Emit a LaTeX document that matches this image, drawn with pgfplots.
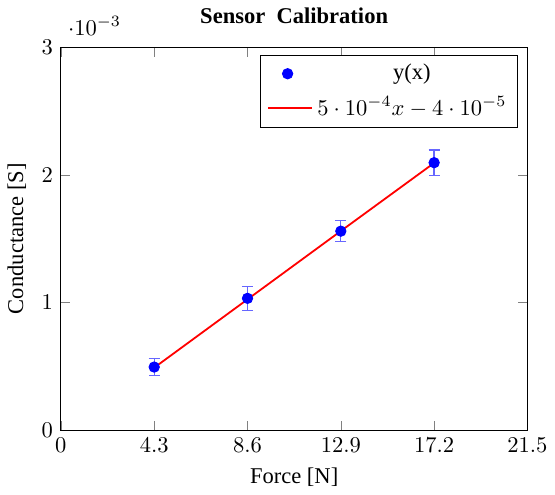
\documentclass[border=0pt]{standalone}
\usepackage{fontspec}
\setmainfont{Liberation Serif}
\usepackage{pgfplots}
\pgfplotsset{compat=1.18}

\begin{document}
\begin{tikzpicture}
  \begin{axis}[
    scale only axis,
    width=207pt,
    height=170pt,
    title={\textbf{Sensor\ \ Calibration}},
    title style={yshift=1pt},
    xlabel={Force [N]},
    ylabel={Conductance [S]},
    xmin=0, xmax=21.5,
    ymin=0, ymax=0.003,
    xtick={0,4.3,8.6,12.9,17.2,21.5},
    ytick={0,0.001,0.002,0.003},
    legend cell align=center,
    legend style={at={(0.98,0.98)}, anchor=north east, row sep=2pt},
  ]
    \addplot[only marks, blue, mark=*, mark size=2.3pt,
      error bars/.cd, y dir=both, y explicit,
      error bar style={blue!60, line width=0.6pt},
      error mark options={rotate=90, mark size=2.5pt, blue!60, line width=0.6pt}]
      coordinates {
        (4.3,0.000495)  +- (0,0.000068)
        (8.6,0.001033)  +- (0,0.000095)
        (12.9,0.001559) +- (0,0.000082)
        (17.2,0.002095) +- (0,0.000100)
      };
    \addlegendentry{y(x)}
    \addplot[red, line width=0.8pt,
      legend image code/.code={\draw[red, line width=0.8pt] (0cm,0cm) -- (0.68cm,0cm);}]
      coordinates {
      (4.3,0.000490) (8.6,0.001025) (12.9,0.001560) (17.2,0.002093)
    };
    \addlegendentry{$5\cdot10^{-4}x-4\cdot10^{-5}$}
  \end{axis}
\end{tikzpicture}
\end{document}
